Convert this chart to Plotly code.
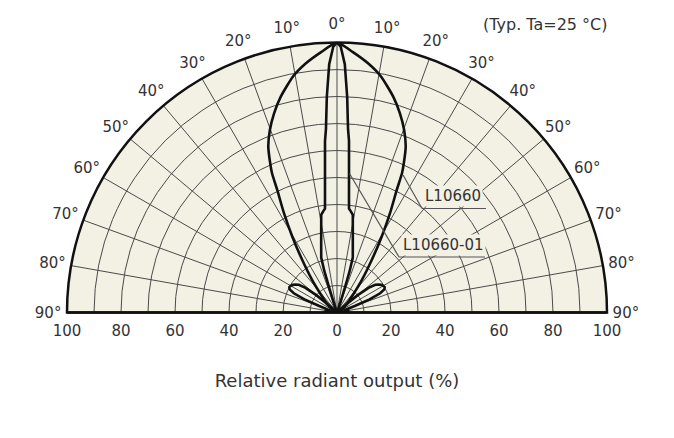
import plotly.graph_objects as go

# ---------------- data ----------------
# L10660 (wide pattern): angle (deg, one side) -> relative radiant output (%)
ang_l10660 = [0, 3.5, 7.1, 10.5, 14.6, 17.5, 20.2, 22.5, 24, 25, 26, 28.1, 30.5, 33.5, 37.5, 43, 50, 56, 65, 78, 90]
out_l10660 = [100, 96.6, 93, 89, 82.6, 77.4, 72, 66.5, 61, 57, 50.5, 41.7, 32.6, 23.3, 15, 8, 4.5, 2.8, 1.5, 0.6, 0]

# L10660-01 (narrow pattern with side lobes)
ang_l10660_01 = [0, 0.8, 1.8, 2.7, 3.45, 4, 5, 6, 6.6, 7.8, 9.2, 10, 12, 14, 16, 17, 17.5, 18.5, 20, 25, 35, 45,
                 48, 50, 52, 54, 56, 58, 60, 62, 64, 66, 68, 70, 72, 74, 78, 82, 86, 90]
out_l10660_01 = [100, 98.5, 92, 80, 68, 63.7, 51, 42.5, 38.7, 37.8, 36.6, 33.7, 28.2, 24.2, 21.2, 16, 10, 4, 1.5, 0.8, 0.5, 0.5,
                 3, 10, 15, 17.5, 18.5, 19.3, 19.8, 20, 19.5, 17.5, 13, 7, 3.5, 2.5, 4, 4.5, 3.5, 0]

angle_ticks = [-90, -80, -70, -60, -50, -40, -30, -20, -10, 0, 10, 20, 30, 40, 50, 60, 70, 80, 90]
angle_labels = [f"{abs(a)}°" for a in angle_ticks]
radial_grid = [10, 20, 30, 40, 50, 60, 70, 80, 90]
output_ticks = [-100, -80, -60, -40, -20, 0, 20, 40, 60, 80, 100]
output_labels = [str(abs(v)) for v in output_ticks]

# ---------------- helpers ----------------
def full_pattern(angles, values):
    th = [-a for a in reversed(angles)] + angles[1:]
    r = list(reversed(values)) + values[1:]
    return th, r

W, H = 674, 438
ML, MR, MT, MB = 20, 20, 0, 0
PW, PH = W - ML - MR, H - MT - MB

CX, CY, RAD = 337, 312.5, 270      # centre / rim radius of the semicircle (px)
LABEL_R = 107                       # where the angle labels sit (% units)
OUTER_MAX = 110                     # radial range of the label overlay

def px(x):  # pixel x -> plot-area fraction
    return (x - ML) / PW

def py(y):  # pixel y (from top) -> plot-area fraction
    return 1 - (y - MT) / PH

CREAM = "#f2f1e4"
GRID = "#4a4a4a"
TXT = "#333333"
FONT = "DejaVu Sans"

fig = go.Figure()

th1, r1 = full_pattern(ang_l10660, out_l10660)
th2, r2 = full_pattern(ang_l10660_01, out_l10660_01)

fig.add_trace(go.Scatterpolar(theta=th1, r=r1, mode="lines", name="L10660",
                              line=dict(color="#111111", width=2.6, shape="spline", smoothing=0.6),
                              showlegend=False, hoverinfo="skip"))
fig.add_trace(go.Scatterpolar(theta=th2, r=r2, mode="lines", name="L10660-01",
                              line=dict(color="#111111", width=2.6),
                              showlegend=False, hoverinfo="skip"))
# angle labels on a transparent overlay polar with a slightly larger radial range
fig.add_trace(go.Scatterpolar(theta=angle_ticks, r=[LABEL_R] * len(angle_ticks), mode="text",
                              text=angle_labels, textposition="middle center",
                              textfont=dict(family=FONT, size=15, color=TXT), subplot="polar2",
                              cliponaxis=False, showlegend=False, hoverinfo="skip"))

# invisible helper trace so the cartesian axis (bottom scale) is drawn
fig.add_trace(go.Scatter(x=output_ticks, y=[0] * len(output_ticks), mode="markers",
                         marker=dict(opacity=0), showlegend=False, hoverinfo="skip"))

dom_x = [px(CX - RAD), px(CX + RAD)]
dom_y = [py(CY), py(CY - RAD)]
big = RAD * OUTER_MAX / 100
dom2_x = [px(CX - big), px(CX + big)]
dom2_y = [py(CY + 1.5), py(CY + 1.5 - big)]

fig.update_layout(
    width=W, height=H,
    margin=dict(l=ML, r=MR, t=MT, b=MB, pad=0, autoexpand=False),
    paper_bgcolor="white",
    plot_bgcolor="rgba(0,0,0,0)",
    font=dict(family=FONT, size=15, color=TXT),
    polar=dict(
        domain=dict(x=dom_x, y=dom_y),
        sector=[0, 180],
        bgcolor=CREAM,
        radialaxis=dict(range=[0, 100], tickvals=radial_grid, showticklabels=False,
                        ticks="", showline=False, gridcolor=GRID, gridwidth=1.15),
        angularaxis=dict(rotation=90, direction="clockwise",
                         tickmode="array", tickvals=angle_ticks, showticklabels=False,
                         ticks="",
                         showline=True, linecolor="#111111", linewidth=2.5,
                         gridcolor=GRID, gridwidth=1.15),
    ),
    polar2=dict(
        domain=dict(x=dom2_x, y=dom2_y),
        sector=[0, 180],
        bgcolor="rgba(0,0,0,0)",
        radialaxis=dict(range=[0, OUTER_MAX], visible=False, showgrid=False),
        angularaxis=dict(rotation=90, direction="clockwise", visible=False,
                         showgrid=False, showline=False, showticklabels=False, ticks=""),
    ),
    xaxis=dict(domain=dom_x, range=[-100, 100], tickmode="array", tickvals=output_ticks,
               ticktext=output_labels, automargin=False,
               ticks="outside", ticklen=4, tickcolor="rgba(0,0,0,0)",
               showgrid=False, zeroline=False, showline=False, fixedrange=True,
               tickfont=dict(family=FONT, size=15, color=TXT),
               title=dict(text="Relative radiant output (%)", standoff=35,
                          font=dict(family=FONT, size=18, color=TXT))),
    yaxis=dict(domain=dom_y, range=[0, 1], visible=False, fixedrange=True, automargin=False),
)

# bottom edge of the semicircle
fig.add_shape(type="line", xref="paper", yref="paper", x0=dom_x[0], x1=dom_x[1],
              y0=dom_y[0], y1=dom_y[0], line=dict(color="#111111", width=2.5))

# labels with leader lines
fig.add_annotation(text="(Typ. Ta=25 °C)", xref="paper", yref="paper", x=px(545), y=py(24),
                   xanchor="center", yanchor="middle",
                   showarrow=False, font=dict(family=FONT, size=16, color=TXT))
fig.add_annotation(text="L10660", xref="paper", yref="paper", x=px(453), y=py(196),
                   xanchor="center", yanchor="middle",
                   showarrow=False, bgcolor=CREAM, borderpad=1,
                   font=dict(family=FONT, size=15, color=TXT))
fig.add_annotation(text="L10660-01", xref="paper", yref="paper", x=px(444), y=py(245),
                   xanchor="center", yanchor="middle",
                   showarrow=False, bgcolor=CREAM, borderpad=1,
                   font=dict(family=FONT, size=15, color=TXT))
for (x0, y0, x1, y1) in [(422, 208.5, 486, 208.5), (399, 257, 485, 257),
                         (403, 175, 422, 208.5), (349.5, 173.5, 399, 257)]:
    fig.add_shape(type="line", xref="paper", yref="paper", x0=px(x0), y0=py(y0), x1=px(x1), y1=py(y1),
                  line=dict(color="#555555", width=1.2))

fig.write_html("out.html", post_script="document.body.style.margin='0';",
               config={"displayModeBar": False})
